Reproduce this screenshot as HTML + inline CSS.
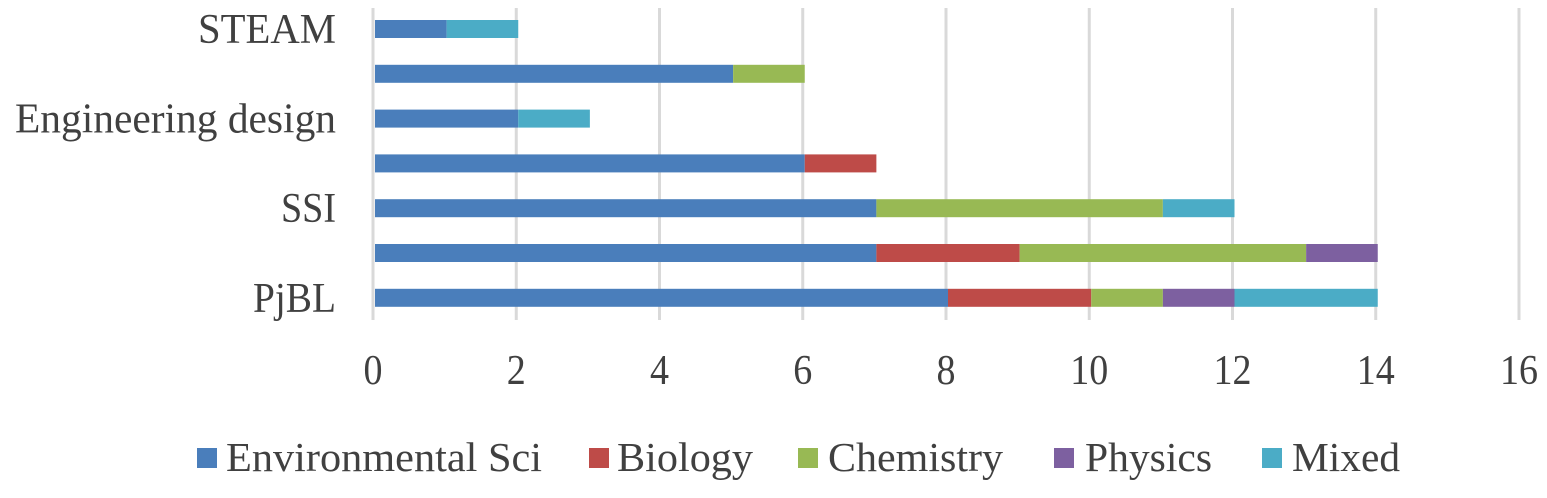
<!DOCTYPE html>
<html><head><meta charset="utf-8"><style>
html,body{margin:0;padding:0;background:#fff;}
svg text{font-family:"Liberation Serif",serif;fill:#404040;}
</style></head><body>
<svg id="chart" width="1547" height="493"></svg>
<script>
const categories=["STEAM","","Engineering design","","SSI","","PjBL"];
const seriesNames=["Environmental Sci","Biology","Chemistry","Physics","Mixed"];
const envSci=[1,5,2,6,7,7,8];
const biology=[0,0,0,1,0,2,2];
const chemistry=[0,1,0,0,4,4,1];
const physics=[0,0,0,0,0,1,1];
const mixed=[1,0,1,0,1,0,2];
const xTicks=[0,2,4,6,8,10,12,14,16];
const colors=["#4a7ebb","#be4b48","#98b954","#7d60a0","#4bacc6"];
const series=[envSci,biology,chemistry,physics,mixed];
const NS="http://www.w3.org/2000/svg";
const svg=document.getElementById('chart');
const x0=373,x1=1519,xMax=16;
const xs=v=>x0+(v/xMax)*(x1-x0);
const rowTop=20,rowStep=44.8,barH=18;
const yc=i=>rowTop+barH/2+i*rowStep;
const labelW={"STEAM":138,"Engineering design":321,"SSI":55,"PjBL":83};
function mk(t,a){const e=document.createElementNS(NS,t);for(const k in a)e.setAttribute(k,a[k]);svg.appendChild(e);return e;}
xTicks.forEach(t=>{
  const g=mk('line',{x1:xs(t),x2:xs(t),y1:8,y2:320,stroke:'#d9d9d9','stroke-width':3});
  
  
  const s=String(t);
  const l=mk('text',{x:xs(t),y:384,'text-anchor':'middle','font-size':42,textLength:s.length*19,lengthAdjust:'spacingAndGlyphs'});
  l.textContent=s;
  
  
});
categories.forEach((c,i)=>{
  let acc=0;
  series.forEach((s,k)=>{
    const v=s[i];
    if(v>0){
      const r=mk('rect',{x:xs(acc)+2,y:yc(i)-barH/2,width:xs(acc+v)-xs(acc),height:barH,fill:colors[k]});
      
      
    }
    acc+=v;
  });
  if(c){
    const t=mk('text',{x:336,y:yc(i)+14,'text-anchor':'end','font-size':42,textLength:labelW[c],lengthAdjust:'spacingAndGlyphs'});
    t.textContent=c;
    
    
  }
});
const legX=[197,589,798,1054,1262];
const legTextX=[226,617,828,1085,1292];
const legW=[316,136,175,127,108];
seriesNames.forEach((n,k)=>{
  const r=mk('rect',{x:legX[k],y:448,width:20,height:20,fill:colors[k]});
  
  
  const t=mk('text',{x:legTextX[k],y:471,'font-size':41,textLength:legW[k],lengthAdjust:'spacingAndGlyphs'});
  t.textContent=n;
  
  
});
</script>
</body></html>
